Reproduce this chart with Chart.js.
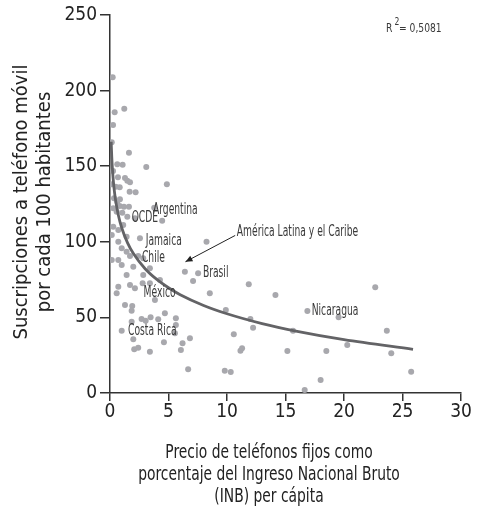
<!DOCTYPE html>
<html>
<head>
<meta charset="utf-8">
<script src="https://cdn.jsdelivr.net/npm/chart.js@4/dist/chart.umd.min.js"></script>
<style>
  html, body { margin: 0; padding: 0; background: #ffffff; }
  #wrap { width: 478px; height: 514px; position: relative; }
</style>
</head>
<body>
<div id="wrap"><canvas id="c"></canvas></div>
<script>
// ---- data ----
const pointsX = [0.23,0.4,1.22,0.26,0.15,1.62,0.62,1.08,3.1,0.26,0.68,1.28,1.48,1.71,4.86,0.15,0.49,0.83,1.68,2.19,
  0.34,0.62,0.85,0.83,1.19,1.62,0.57,1.05,1.48,4.46,3.78,0.28,2.13,0.28,1.13,0.71,0.15,1.42,2.56,8.25,
  0.71,1.0,1.42,1.71,2.41,2.84,0.15,0.71,1.0,1.99,3.41,6.4,7.53,1.42,2.84,4.27,0.71,1.71,3.41,0.57,
  2.13,2.79,3.84,8.53,7.1,9.9,1.28,1.9,1.85,4.69,1.85,2.7,3.05,3.47,4.12,5.63,5.63,1.0,5.55,1.99,
  6.83,4.61,6.2,2.07,2.41,3.41,6.06,6.68,9.81,11.86,12.0,12.23,10.58,11.29,11.15,10.32,14.14,16.87,19.54,15.64,
  20.28,15.16,18.49,18.0,16.64,22.67,23.66,24.04,25.74];
const pointsY = [208.8,185.6,188,177.2,165.8,158.9,151.3,151,149.5,146.8,142.7,142.2,140.4,139.4,138,138,136.4,136,133.1,132.7,
  128.8,126.5,128.1,123.7,123.2,123.2,119.9,119.2,116.6,114,122.5,122.2,115.5,110,111.1,107.8,104.5,103.4,102.3,100,
  100,95.7,93.5,90.6,90.6,89.1,88,88,84.7,83.5,82.5,80.2,79.2,78,78,74.7,70.3,71.4,72.6,65.9,
  69.2,72.6,61.5,65.9,74.1,54.9,58.2,57.5,54.4,52.7,47.2,48.9,47.8,50.1,48.7,49.4,45,41.2,39.5,35.5,
  36.2,33.5,32.9,28.9,30,27.3,28.4,15.7,14.7,71.9,48.9,43.2,38.8,29.6,28,13.9,64.8,54.2,50.1,41.2,
  31.7,27.8,27.8,8.6,2,69.9,41.2,26.3,14.1];

// trend curve
const trendX = [0.1,0.15,0.2,0.3,0.4,0.5,0.7,1,1.5,2,3,4,5,6,8,10,13,16,20,25.9];
const trendY = [166.2,156.2,149.1,139.0,131.9,126.4,118.1,109.3,99.3,92.2,82.2,75.1,69.6,65.0,57.9,52.4,45.9,40.8,35.3,28.9];

const xTicks = [0,5,10,15,20,25,30];
const yTicks = [0,50,100,150,200,250];

const labelNames = ["Argentina","OCDE","Jamaica","Chile","México","Costa Rica","Brasil","Nicaragua","América Latina y el Caribe"];
const labelX = [3.67,1.85,3.05,2.73,2.87,1.54,7.94,17.24,10.84];
const labelY = [121.2,115.8,100.5,89.2,65.8,40.8,79.2,54.2,106.5];

const arrowFrom = [10.7, 104.2];
const arrowTo = [6.45, 86.8];

const r2Text = "0,5081";
const xTitle = ["Precio de teléfonos fijos como", "porcentaje del Ingreso Nacional Bruto", "(INB) per cápita"];
const yTitle = ["Suscripciones a teléfono móvil", "por cada 100 habitantes"];

// ---- chart ----
const FONT = "'DejaVu Sans Condensed', 'Liberation Sans Narrow', sans-serif";
const scatterData = pointsX.map((x, i) => ({ x: x, y: pointsY[i] }));
const trendData = trendX.map((x, i) => ({ x: x, y: trendY[i] }));

function squeezedText(ctx, text, x, y, sx) {
  ctx.save();
  ctx.translate(x, y);
  ctx.scale(sx, 1);
  ctx.fillText(text, 0, 0);
  ctx.restore();
}

const extras = {
  id: 'extras',
  afterDatasetsDraw(chart) {
    const ctx = chart.ctx;
    const xs = chart.scales.x, ys = chart.scales.y;
    ctx.save();
    // labels
    ctx.font = "15px " + FONT;
    ctx.fillStyle = "#3a3a3a";
    ctx.textAlign = "left";
    ctx.textBaseline = "middle";
    labelNames.forEach((n, i) => {
      squeezedText(ctx, n, xs.getPixelForValue(labelX[i]), ys.getPixelForValue(labelY[i]), 0.68);
    });
    // arrow
    const x1 = xs.getPixelForValue(arrowFrom[0]), y1 = ys.getPixelForValue(arrowFrom[1]);
    const x2 = xs.getPixelForValue(arrowTo[0]), y2 = ys.getPixelForValue(arrowTo[1]);
    ctx.strokeStyle = "#222";
    ctx.fillStyle = "#222";
    ctx.lineWidth = 1;
    ctx.beginPath(); ctx.moveTo(x1, y1); ctx.lineTo(x2, y2); ctx.stroke();
    const ang = Math.atan2(y2 - y1, x2 - x1);
    const L = 7, W = 3;
    ctx.beginPath();
    ctx.moveTo(x2, y2);
    ctx.lineTo(x2 - L * Math.cos(ang) + W * Math.sin(ang), y2 - L * Math.sin(ang) - W * Math.cos(ang));
    ctx.lineTo(x2 - L * Math.cos(ang) - W * Math.sin(ang), y2 - L * Math.sin(ang) + W * Math.cos(ang));
    ctx.closePath(); ctx.fill();
    // R2
    ctx.fillStyle = "#3a3a3a";
    ctx.textBaseline = "alphabetic";
    ctx.font = "12px " + FONT;
    squeezedText(ctx, "R", 386, 32, 0.85);
    ctx.font = "10px " + FONT;
    squeezedText(ctx, "2", 394.5, 25, 0.85);
    ctx.font = "12px " + FONT;
    squeezedText(ctx, "= " + r2Text, 399, 32, 0.85);
    // axis titles
    ctx.fillStyle = "#222";
    ctx.font = "20px " + FONT;
    ctx.textAlign = "center";
    ctx.textBaseline = "middle";
    xTitle.forEach((t, i) => squeezedText(ctx, t, 269, 453 + i * 22, 0.77));
    ctx.font = "20px " + FONT;
    ctx.save();
    ctx.translate(0, 202);
    ctx.rotate(-Math.PI / 2);
    yTitle.forEach((t, i) => ctx.fillText(t, 0, 22 + i * 23));
    ctx.restore();
    ctx.restore();
  }
};

new Chart(document.getElementById('c'), {
  type: 'scatter',
  data: {
    datasets: [
      {
        type: 'line',
        data: trendData,
        borderColor: '#636366',
        borderWidth: 2.8,
        pointRadius: 0,
        fill: false,
        cubicInterpolationMode: 'monotone',
        order: 0
      },
      {
        data: scatterData,
        backgroundColor: '#a8a8ad',
        borderWidth: 0,
        pointRadius: 3,
        order: 1
      }
    ]
  },
  options: {
    responsive: true,
    maintainAspectRatio: false,
    animation: false,
    events: [],
    layout: { padding: { top: 15, right: 17, left: 0, bottom: 0 } },
    plugins: { legend: { display: false }, tooltip: { enabled: false } },
    scales: {
      x: {
        type: 'linear',
        min: 0, max: 30,
        afterBuildTicks(s) { s.ticks = xTicks.map(v => ({ value: v })); },
        afterFit(s) { s.height = 121; },
        grid: { drawOnChartArea: false, tickLength: 8, color: '#333', lineWidth: 1.5 },
        border: { color: '#333', width: 1.5 },
        ticks: { color: '#222', font: { family: FONT, size: 19 }, padding: 0, maxRotation: 0 }
      },
      y: {
        type: 'linear',
        min: 0, max: 250,
        afterBuildTicks(s) { s.ticks = yTicks.map(v => ({ value: v })); },
        afterFit(s) { s.width = 110; },
        grid: { drawOnChartArea: false, tickLength: 10, color: '#333', lineWidth: 1.5 },
        border: { color: '#333', width: 1.5 },
        ticks: { color: '#222', font: { family: FONT, size: 19 }, padding: 3 }
      }
    }
  },
  plugins: [extras]
});
</script>
</body>
</html>
